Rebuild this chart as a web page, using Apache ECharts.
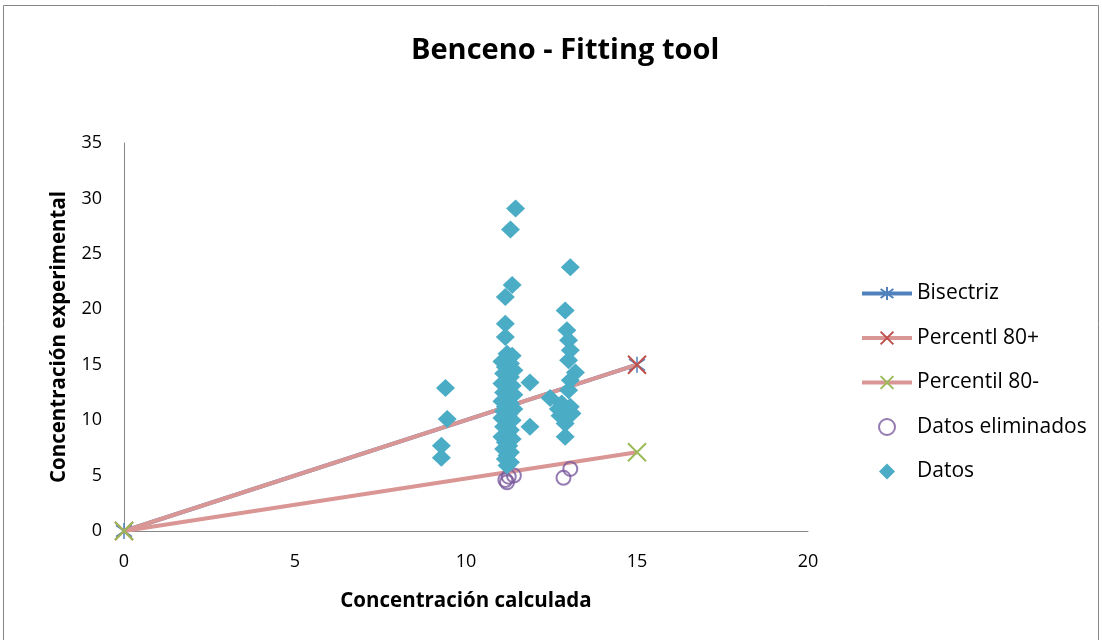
<!DOCTYPE html>
<html>
<head>
<meta charset="utf-8">
<script src="https://cdn.jsdelivr.net/npm/echarts@6/dist/echarts.min.js"></script>
<style>
html,body{margin:0;padding:0;background:#fff;}
#chart{width:1102px;height:640px;}
</style>
</head>
<body>
<div id="chart"></div>
<script>
// ---- data ----
const titleText = 'Benceno - Fitting tool';
const xAxisName = 'Concentración calculada';
const yAxisName = 'Concentración experimental';
const xTicks = [0, 5, 10, 15, 20];
const yTicks = [0, 5, 10, 15, 20, 25, 30, 35];
const seriesNames = ['Bisectriz', 'Percentl 80+', 'Percentil 80-', 'Datos eliminados', 'Datos'];

const bisectriz = [[0, 0], [15, 15]];
const percentil80plus = [[0, 0], [15, 15]];
const percentil80minus = [[0, 0], [15, 7.1]];

const datosEliminados = [
  [11.15, 4.6], [11.25, 4.9], [11.4, 5.0], [11.2, 4.4], [12.85, 4.8], [13.05, 5.6]
];

const datos = [
  [9.4, 12.9], [9.45, 10.1], [9.28, 7.7], [9.28, 6.6],
  [11.45, 29.1], [11.3, 27.2], [11.35, 22.2], [11.15, 21.1], [11.15, 18.7], [11.15, 17.5],
  [11.2, 16.0], [11.35, 15.8], [11.05, 15.3], [11.3, 15.1], [11.15, 14.8], [11.4, 14.5],
  [11.1, 14.2], [11.3, 13.9], [11.2, 13.6], [11.05, 13.3], [11.35, 13.1], [11.2, 12.8],
  [11.1, 12.5], [11.4, 12.3], [11.25, 12.0], [11.05, 11.7], [11.3, 11.5], [11.15, 11.2],
  [11.4, 11.0], [11.1, 10.8], [11.25, 10.5], [11.05, 10.2], [11.35, 10.0], [11.2, 9.7],
  [11.1, 9.4], [11.3, 9.1], [11.2, 8.8], [11.05, 8.5], [11.35, 8.3], [11.15, 8.0],
  [11.25, 7.7], [11.1, 7.4], [11.3, 7.1], [11.2, 6.8], [11.15, 6.5], [11.3, 6.2], [11.2, 5.9],
  [11.87, 13.4], [11.87, 9.4],
  [13.05, 23.8], [12.9, 19.9], [12.95, 18.1], [13.0, 17.2], [13.05, 16.3], [13.0, 15.4],
  [13.2, 14.3], [13.05, 13.6], [13.0, 12.7], [12.46, 12.0], [12.8, 11.5], [13.05, 11.2],
  [12.75, 10.4], [12.9, 9.7], [12.9, 8.5], [13.1, 10.6], [12.7, 11.0]
];

// ---- chart ----
const FONT = "'Open Sans', 'DejaVu Sans', sans-serif";
const starPath = 'path://M5 0 L5 10 M1.5 1.5 L8.5 8.5 M8.5 1.5 L1.5 8.5';
const xPath = 'path://M0 0 L10 10 M10 0 L0 10';

const chart = echarts.init(document.getElementById('chart'), null, {renderer: 'canvas'});
chart.setOption({
  backgroundColor: '#ffffff',
  animation: false,
  textStyle: {fontFamily: FONT},
  title: {
    text: titleText,
    left: 406,
    top: 31,
    textStyle: {fontFamily: FONT, fontSize: 29, fontWeight: 'bold', color: '#000'}
  },
  graphic: [{
    type: 'rect',
    shape: {x: 3.5, y: 5.5, width: 1095, height: 660},
    style: {fill: 'none', stroke: '#868686', lineWidth: 1},
    silent: true
  }],
  grid: {left: 124, top: 143, width: 684, height: 388, containLabel: false},
  xAxis: {
    type: 'value',
    min: xTicks[0], max: xTicks[xTicks.length - 1], interval: 5,
    name: xAxisName, nameLocation: 'middle', nameGap: 60,
    nameTextStyle: {fontFamily: FONT, fontSize: 20.5, fontWeight: 'bold', color: '#000'},
    axisLine: {show: true, onZero: false, lineStyle: {color: '#868686', width: 1}},
    axisTick: {show: false},
    splitLine: {show: false},
    axisLabel: {margin: 22, fontFamily: FONT, fontSize: 18, color: '#000'}
  },
  yAxis: {
    type: 'value',
    min: yTicks[0], max: yTicks[yTicks.length - 1], interval: 5,
    name: yAxisName, nameLocation: 'middle', nameGap: 54,
    nameTextStyle: {fontFamily: FONT, fontSize: 20.5, fontWeight: 'bold', color: '#000'},
    axisLine: {show: true, onZero: false, lineStyle: {color: '#868686', width: 1}},
    axisTick: {show: false},
    splitLine: {show: false},
    axisLabel: {margin: 22, fontFamily: FONT, fontSize: 18, color: '#000'}
  },
  legend: {
    orient: 'vertical',
    left: 855, top: 278,
    itemWidth: 50, itemHeight: 16, itemGap: 23.5,
    itemStyle: {},
    lineStyle: {width: 4},
    data: [
      {name: seriesNames[0]},
      {name: seriesNames[1]},
      {name: seriesNames[2]},
      {name: seriesNames[3]},
      {name: seriesNames[4], icon: 'path://M5 0 L10 5 L5 10 L0 5 Z'}
    ],
    textStyle: {fontFamily: FONT, fontSize: 21, color: '#000', lineHeight: 20}
  },
  series: [
    {
      name: seriesNames[0], type: 'line', data: bisectriz, z: 2,
      symbol: starPath, symbolSize: 16, showAllSymbol: true,
      lineStyle: {color: '#4F81BD', width: 4},
      itemStyle: {color: 'none', borderColor: '#4F81BD', borderWidth: 1.5}
    },
    {
      name: seriesNames[1], type: 'line', data: percentil80plus, z: 3,
      symbol: xPath, symbolSize: 18,
      lineStyle: {color: '#D99694', width: 4},
      itemStyle: {color: 'none', borderColor: '#C0504D', borderWidth: 2}
    },
    {
      name: seriesNames[2], type: 'line', data: percentil80minus, z: 3,
      symbol: xPath, symbolSize: 18,
      lineStyle: {color: '#D99694', width: 4},
      itemStyle: {color: 'none', borderColor: '#9BBB59', borderWidth: 2}
    },
    {
      name: seriesNames[3], type: 'scatter', data: datosEliminados, z: 4,
      symbol: 'circle', symbolSize: 14,
      itemStyle: {color: 'none', borderColor: '#7A5A9E', borderWidth: 2}
    },
    {
      name: seriesNames[4], type: 'scatter', data: datos, z: 5,
      symbol: 'diamond', symbolSize: [19, 18], symbolKeepAspect: true,
      itemStyle: {color: '#4BACC6', opacity: 1}
    }
  ]
});
</script>
</body>
</html>
